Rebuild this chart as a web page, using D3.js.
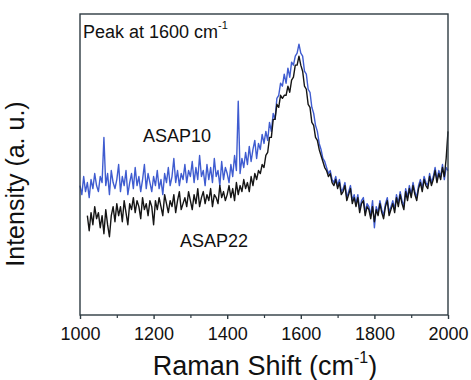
<!DOCTYPE html>
<html>
<head>
<meta charset="utf-8">
<script src="https://cdn.jsdelivr.net/npm/d3@7"></script>
<style>
  html, body { margin: 0; padding: 0; background: #ffffff; }
  svg { display: block; font-family: "Liberation Sans", Arial, sans-serif; }
</style>
</head>
<body>
<svg id="chart" width="471" height="380"></svg>
<script>
// ---------------- data ----------------
const xTicks = [1000, 1200, 1400, 1600, 1800, 2000];
const xMinorTicks = [1100, 1300, 1500, 1700, 1900];
const step = 5;
const asap10Start = 1000;
const asap22Start = 1020;

const asap10 = [
  43, 40, 46, 41, 44, 39, 45, 42, 47, 43,
  41, 46, 44, 59, 43, 47, 40, 48, 44, 42,
  45, 50, 41, 46, 43, 48, 40, 44, 47, 42,
  49, 43, 46, 41, 45, 50, 42, 47, 44, 41,
  46, 43, 48, 42, 45, 40, 47, 44, 49, 43,
  46, 52, 44, 48, 43, 47, 45, 50, 44, 48,
  46, 51, 44, 49, 45, 53, 46, 48, 43, 50,
  45, 49, 44, 52, 46, 48, 43, 51, 45, 49,
  47, 44, 50, 46, 53, 48, 71, 47, 52, 49,
  54, 50, 56, 51, 55, 58, 52, 57, 55, 60,
  57, 61, 58, 64, 61, 67, 65, 72, 73, 77,
  76, 80, 77, 82, 79, 84, 83, 86, 87, 90,
  87, 86, 81, 80, 75, 74, 69, 67, 63, 61,
  57, 55, 52, 51, 49, 47, 48, 45, 44, 46,
  43, 45, 41, 42, 44, 39, 41, 43, 38, 40,
  37, 40, 35, 38, 39, 34, 37, 36, 33, 38,
  29, 36, 34, 38, 35, 33, 37, 39, 34, 36,
  38, 35, 40, 37, 41, 38, 36, 42, 39, 43,
  40, 44, 41, 39, 43, 45, 42, 46, 44, 43,
  47, 44, 46, 49, 45, 48, 46, 50, 45, 49,
  48
];

const asap22 = [
                  33, 28, 34, 30, 36, 32,
  34, 29, 33, 27, 35, 30, 26, 33, 36, 31,
  37, 33, 36, 31, 38, 34, 30, 37, 35, 39,
  34, 38, 36, 32, 39, 35, 37, 33, 38, 36,
  30, 38, 35, 39, 36, 33, 40, 37, 34, 38,
  36, 40, 34, 38, 41, 35, 37, 39, 36, 41,
  38, 35, 40, 37, 42, 36, 39, 41, 37, 40,
  38, 42, 36, 40, 39, 37, 43, 39, 41, 38,
  40, 43, 39, 42, 38, 44, 40, 43, 41, 45,
  42, 44, 41, 46, 43, 47, 45, 48, 47, 50,
  49, 53, 54, 59, 59, 65, 65, 70, 69, 73,
  72, 73, 73, 76, 74, 78, 79, 83, 83, 86,
  83, 81, 76, 75, 70, 69, 64, 63, 59, 58,
  55, 53, 51, 49, 48, 46, 47, 44, 43, 45,
  42, 44, 40, 41, 43, 38, 40, 42, 37, 39,
  36, 39, 34, 37, 38, 33, 36, 35, 32, 36,
  31, 35, 33, 37, 34, 32, 36, 38, 33, 35,
  37, 34, 39, 36, 40, 37, 35, 41, 38, 42,
  39, 43, 40, 38, 42, 44, 41, 45, 43, 42,
  46, 43, 45, 48, 44, 47, 45, 49, 46, 52,
  61
];

const labels = { peak: "Peak at 1600 cm", s10: "ASAP10", s22: "ASAP22",
                 xTitle: "Raman Shift (cm", yTitle: "Intensity (a. u.)" };

// ---------------- layout ----------------
const svg = d3.select("#chart");
const pL = 80, pR = 448, pT = 14, pB = 315;

const x = d3.scaleLinear().domain([1000, 2000]).range([pL, pR]);
const y = d3.scaleLinear().domain([0, 100]).range([pB, pT]);

const frameColor = "#2e3b42";

// series
const line = d3.line().x(d => x(d[0])).y(d => y(d[1]));
const pts10 = asap10.map((v, i) => [asap10Start + i * step, v]);
const pts22 = asap22.map((v, i) => [asap22Start + i * step, v]);

svg.append("path").datum(pts10).attr("d", line)
  .attr("fill", "none").attr("stroke", "#3f5cd0").attr("stroke-width", 1.4)
  .attr("stroke-linejoin", "round");
svg.append("path").datum(pts22).attr("d", line)
  .attr("fill", "none").attr("stroke", "#151515").attr("stroke-width", 1.4)
  .attr("stroke-linejoin", "round");

// frame
svg.append("rect").attr("x", pL).attr("y", pT)
  .attr("width", pR - pL).attr("height", pB - pT)
  .attr("fill", "none").attr("stroke", frameColor).attr("stroke-width", 1.4);

// x axis
const xAxis = d3.axisBottom(x).tickValues(xTicks).tickSize(4).tickFormat(d3.format("d"));
const gx = svg.append("g").attr("transform", `translate(0,${pB})`).call(xAxis);
gx.select(".domain").remove();
gx.selectAll(".tick line").attr("stroke", frameColor).attr("stroke-width", 1.4);
gx.selectAll(".tick text").attr("font-size", 18).attr("fill", "#111")
  .attr("font-family", "Liberation Sans, Arial, sans-serif").attr("dy", "0.71em").attr("y", 12);

const xMinor = d3.axisBottom(x).tickValues(xMinorTicks).tickSize(3).tickFormat("");
const gm = svg.append("g").attr("transform", `translate(0,${pB})`).call(xMinor);
gm.select(".domain").remove();
gm.selectAll(".tick line").attr("stroke", frameColor).attr("stroke-width", 1.2);

// x title
const xt = svg.append("text").attr("x", 265).attr("y", 375)
  .attr("text-anchor", "middle").attr("font-size", 27).attr("fill", "#111");
xt.append("tspan").text(labels.xTitle);
xt.append("tspan").attr("font-size", 16).attr("dy", -12).text("-1");
xt.append("tspan").attr("dy", 12).text(")");

// y title
svg.append("text").attr("transform", `translate(24,184) rotate(-90)`)
  .attr("text-anchor", "middle").attr("font-size", 25).attr("fill", "#111")
  .text(labels.yTitle);

// annotations
const pk = svg.append("text").attr("x", 83).attr("y", 38).attr("font-size", 18).attr("fill", "#111");
pk.append("tspan").text(labels.peak);
pk.append("tspan").attr("font-size", 11).attr("dy", -9).text("-1");

svg.append("text").attr("x", 143).attr("y", 142).attr("font-size", 18).attr("fill", "#111").text(labels.s10);
svg.append("text").attr("x", 180).attr("y", 247).attr("font-size", 18).attr("fill", "#111").text(labels.s22);
</script>
</body>
</html>
